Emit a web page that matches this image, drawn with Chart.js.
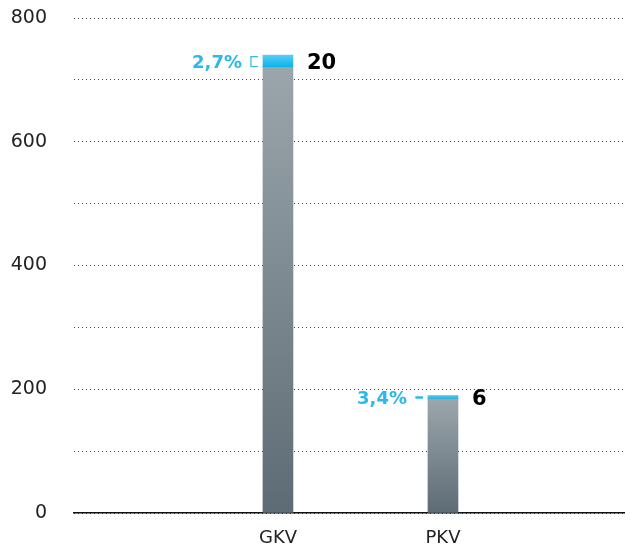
<!DOCTYPE html>
<html>
<head>
<meta charset="utf-8">
<script src="https://cdn.jsdelivr.net/npm/chart.js@4"></script>
<style>
  html, body { margin: 0; padding: 0; background: #fff; }
  #wrap { width: 630px; height: 551px; }
</style>
</head>
<body>
<div id="wrap"><canvas id="barChart" width="630" height="551"></canvas></div>
<script>
// data
var categories = ['GKV', 'PKV'];
var baseValues = [720, 184];
var addValues = [20, 6];
var pctLabels = ['2,7%', '3,4%'];
var yTicks = [0, 200, 400, 600, 800];

var blue = '#2bb8ea';

function toPoints(arr) {
  return arr.map(function (v, i) { return { x: i, y: v }; });
}

function grayFill(c) {
  var chart = c.chart;
  if (!chart.chartArea) return '#7b8890';
  var y = chart.scales.y;
  var v = baseValues[c.dataIndex];
  var top = y.getPixelForValue(v), bot = y.getPixelForValue(0);
  var g = chart.ctx.createLinearGradient(0, top, 0, bot);
  g.addColorStop(0, '#9ba6ac');
  g.addColorStop(1, '#5d6b74');
  return g;
}

function blueFill(c) {
  var chart = c.chart;
  if (!chart.chartArea) return blue;
  var y = chart.scales.y;
  var i = c.dataIndex;
  var top = y.getPixelForValue(baseValues[i] + addValues[i]);
  var bot = y.getPixelForValue(baseValues[i]);
  var g = chart.ctx.createLinearGradient(0, top, 0, bot);
  g.addColorStop(0, '#5ccbf2');
  g.addColorStop(1, '#06b2ec');
  return g;
}

// labels next to the bars
var barNotes = {
  id: 'barNotes',
  afterDatasetsDraw: function (chart) {
    var ctx = chart.ctx;
    var meta = chart.getDatasetMeta(1);
    meta.data.forEach(function (bar, i) {
      var left = bar.x - bar.width / 2, right = bar.x + bar.width / 2;
      var top = bar.y, bot = bar.base;
      var mid = (top + bot) / 2;
      ctx.save();
      // bracket
      ctx.strokeStyle = blue;
      ctx.lineWidth = 1.2;
      ctx.beginPath();
      ctx.moveTo(left - 5, top + 1.5);
      ctx.lineTo(left - 12, top + 1.5);
      ctx.lineTo(left - 12, bot - 1);
      ctx.lineTo(left - 5, bot - 1);
      ctx.stroke();
      ctx.textBaseline = 'middle';
      ctx.font = 'bold 18px "DejaVu Sans"';
      ctx.fillStyle = blue;
      ctx.textAlign = 'right';
      ctx.fillText(pctLabels[i], left - 21, mid + 2);
      ctx.font = 'bold 21px "DejaVu Sans"';
      ctx.fillStyle = '#000';
      ctx.textAlign = 'left';
      ctx.fillText(String(addValues[i]), right + 14, mid + 2);
      ctx.restore();
    });
  }
};

var ctx = document.getElementById('barChart').getContext('2d');
var myChart = new Chart(ctx, {
  type: 'bar',
  data: {
    datasets: [{
      data: toPoints(baseValues),
      backgroundColor: grayFill,
      barThickness: 30
    }, {
      data: toPoints(addValues),
      backgroundColor: blueFill,
      barThickness: 30
    }]
  },
  options: {
    responsive: false,
    animation: false,
    layout: { padding: { top: 18, right: 6, bottom: 0, left: 0 } },
    plugins: { legend: { display: false }, tooltip: { enabled: false } },
    scales: {
      x: {
        type: 'linear',
        stacked: true,
        offset: false,
        min: -1.236,
        max: 2.097,
        afterBuildTicks: function (s) {
          s.ticks = categories.map(function (c, i) { return { value: i }; });
        },
        afterFit: function (s) { s.height = 38; },
        ticks: {
          padding: 15,
          maxRotation: 0,
          color: '#222',
          font: { family: 'DejaVu Sans', size: 18 },
          callback: function (v) { return categories[v] || ''; }
        },
        grid: { display: false, drawTicks: false },
        border: { display: true, color: '#111', width: 1.5 }
      },
      y: {
        stacked: true,
        min: 0,
        max: 800,
        afterFit: function (s) { s.width = 74; },
        ticks: {
          stepSize: 100,
          padding: 0,
          color: '#222',
          font: { family: 'DejaVu Sans', size: 19 },
          callback: function (v) { return yTicks.indexOf(v) >= 0 ? v : ''; }
        },
        grid: { color: '#444', lineWidth: 1, drawTicks: true, tickLength: 27, tickColor: 'rgba(0,0,0,0)' },
        border: { display: false, dash: [1, 3] }
      }
    }
  },
  plugins: [barNotes]
});
</script>
</body>
</html>
